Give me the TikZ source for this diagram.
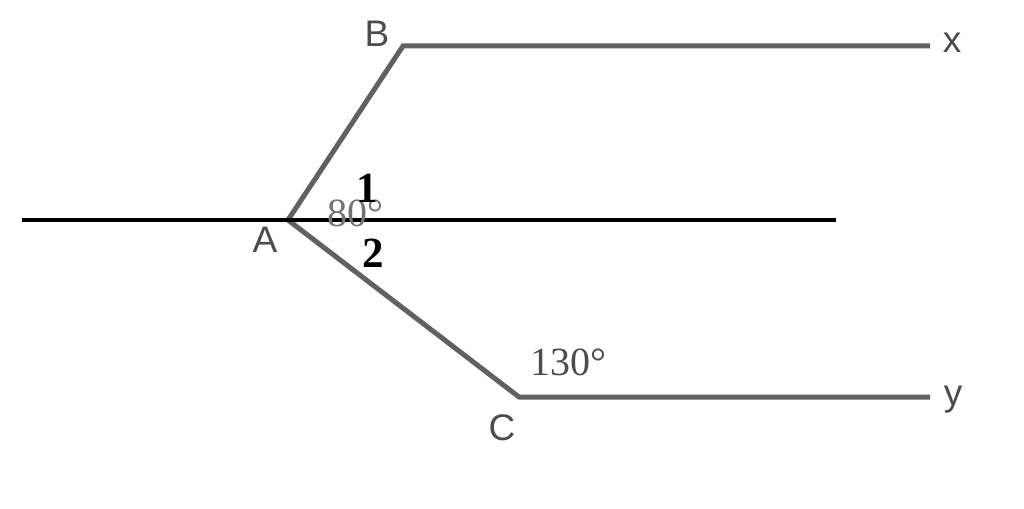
\documentclass[tikz,border=0pt]{standalone}
\usepackage{fontspec}
\setmainfont{Liberation Serif}
\newfontfamily\lsans{Liberation Sans}
\begin{document}
\begin{tikzpicture}[x=1pt,y=-1pt,
  grayline/.style={draw=black!62,line width=5pt,line join=miter},
  blackline/.style={draw=black,line width=4pt},
  ptlabel/.style={anchor=base,inner sep=0pt,text=black!70,font=\lsans\fontsize{37}{37}\selectfont},
  anglabel/.style={anchor=base,inner sep=0pt,font=\fontsize{40}{40}\selectfont},
  numlabel/.style={anchor=base,inner sep=0pt,text=black,font=\bfseries\fontsize{43}{43}\selectfont}]
\useasboundingbox (0,0) rectangle (1024,508);
\coordinate (A) at (288,220);
\coordinate (B) at (403,46);
\coordinate (X) at (930,46);
\coordinate (C) at (519,397);
\coordinate (Y) at (930,397);
\coordinate (L) at (22,220);
\coordinate (R) at (836,220);
\draw[grayline] (X) -- (B) -- (A) -- (C) -- (Y);
\draw[blackline] (L) -- (R);
\node[ptlabel] (lB) at (377,47) {B};
\node[ptlabel] (lX) at (952,53) {x};
\node[ptlabel] (lA) at (265,252) {A};
\node[ptlabel] (lC) at (502,440) {C};
\node[ptlabel] (lY) at (953,405) {y};
\node[anglabel,text=black!55] (a80) at (355,226) {80°};
\node[anglabel,text=black!70] (a130) at (568,375) {130°};
\node[numlabel] (n1) at (367,202) {1};
\node[numlabel] (n2) at (373,267) {2};
\end{tikzpicture}
\end{document}
